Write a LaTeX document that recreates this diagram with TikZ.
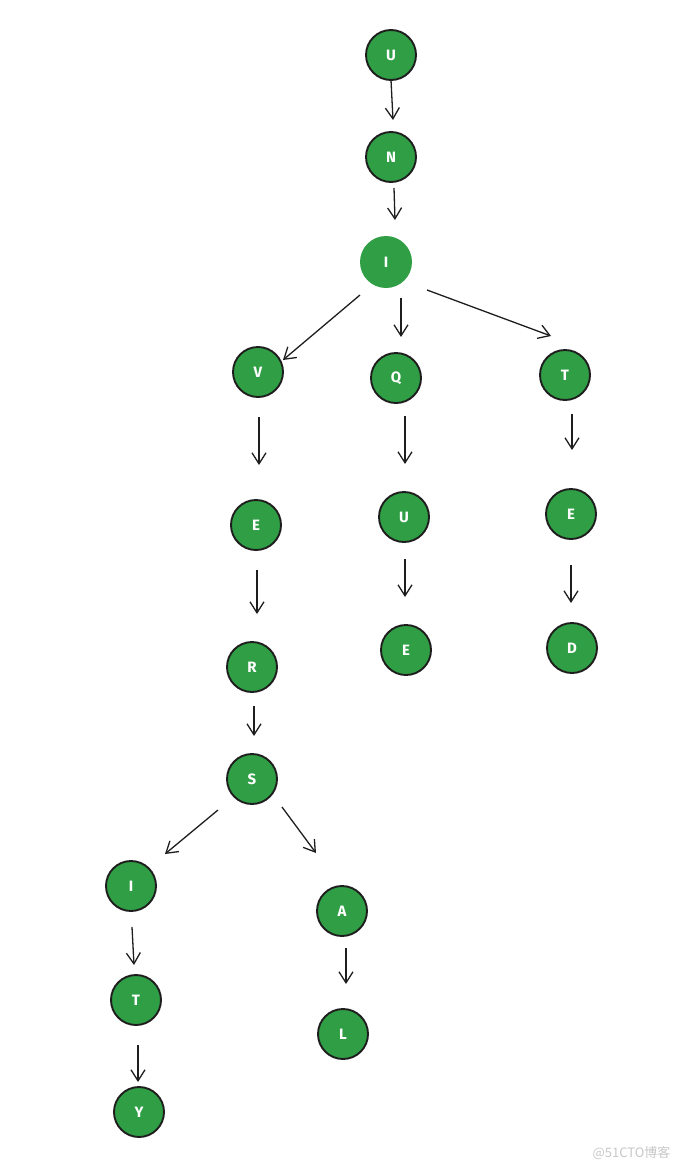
\documentclass[tikz,border=0pt]{standalone}
\usepackage{fontspec}
\setmainfont{Fira Sans}
\newfontfamily\cjkfont{Noto Sans CJK SC}
\usetikzlibrary{arrows.meta,calc}
\definecolor{nodegreen}{HTML}{2F9E44}
\definecolor{inkline}{HTML}{1E1E1E}
\tikzset{
  ltr/.style={circle, fill=nodegreen, draw=inkline, line width=1.9pt, minimum size=50pt, inner sep=0pt, outer sep=0pt, text=white, font=\fontsize{15}{15}\selectfont\bfseries},
  ltrnb/.style={ltr, draw=none},
  arr/.style={draw=inkline, line width=1.3pt, -{Straight Barb[length=11pt,width=14pt,line width=1.3pt]}}
}
\begin{document}
\begin{tikzpicture}[x=1pt,y=-1pt]
\useasboundingbox (0,0) rectangle (682,1170);
\node[ltr] (U) at (391,55) {U};
\node[ltr] (N) at (391,157) {N};
\node[ltrnb, minimum size=52pt] (I) at (386,262) {I};
\node[ltr] (V) at (258,372) {V};
\node[ltr] (Q) at (396,378) {Q};
\node[ltr] (T) at (565,375) {T};
\node[ltr] (E1) at (256,525) {E};
\node[ltr] (U2) at (404,517) {U};
\node[ltr] (E2) at (571,514) {E};
\node[ltr] (R) at (252,667) {R};
\node[ltr] (E3) at (406,650) {E};
\node[ltr] (D) at (572,648) {D};
\node[ltr] (S) at (252,779) {S};
\node[ltr] (I2) at (131,886) {I};
\node[ltr] (A) at (342,911) {A};
\node[ltr] (T2) at (136,1000) {T};
\node[ltr] (L) at (343,1034) {L};
\node[ltr] (Y) at (139,1112) {Y};

\draw[arr] ($(U)+(0,25)$) -- ($(N)+(2,-37)$);
\draw[arr] ($(N)+(3,31)$) -- ($(I)+(9,-42)$);
\draw[arr] ($(I)+(-26,33)$) -- ($(V)+(25,-12)$);
\draw[arr] ($(I)+(15,36)$) -- ($(Q)+(5,-41)$);
\draw[arr] ($(I)+(41,28)$) -- ($(T)+(-14,-39)$);
\draw[arr] ($(V)+(1,45)$) -- ($(E1)+(3,-60)$);
\draw[arr] ($(Q)+(9,38)$) -- ($(U2)+(1,-53)$);
\draw[arr] ($(T)+(7,39)$) -- ($(E2)+(1,-64)$);
\draw[arr] ($(E1)+(1,45)$) -- ($(R)+(5,-53)$);
\draw[arr] ($(U2)+(1,42)$) -- ($(E3)+(-1,-53)$);
\draw[arr] ($(E2)+(0,51)$) -- ($(D)+(-1,-45)$);
\draw[arr] ($(R)+(2,39)$) -- ($(S)+(2,-43)$);
\draw[arr] ($(S)+(-34,31)$) -- ($(I2)+(34,-32)$);
\draw[arr] ($(S)+(30,28)$) -- ($(A)+(-26,-58)$);
\draw[arr] ($(I2)+(1,41)$) -- ($(T2)+(-2,-35)$);
\draw[arr] ($(A)+(4,37)$) -- ($(L)+(3,-50)$);
\draw[arr] ($(T2)+(2,45)$) -- ($(Y)+(-1,-30)$);

\node[text=black!22, font=\cjkfont\fontsize{13}{13}\selectfont, anchor=east] (wm) at (674,1153) {@51CTO博客};
\end{tikzpicture}
\end{document}
